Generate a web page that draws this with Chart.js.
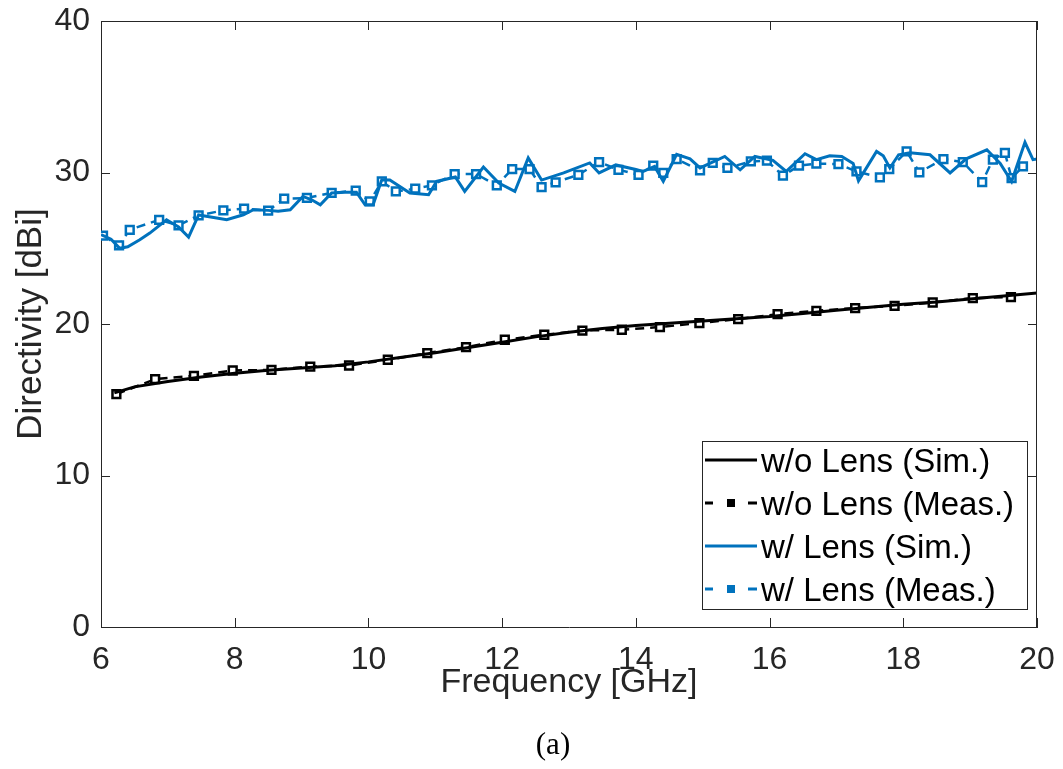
<!DOCTYPE html>
<html><head><meta charset="utf-8">
<script src="https://cdn.jsdelivr.net/npm/chart.js@4.4.0/dist/chart.umd.min.js"></script>
<style>
body{margin:0;background:#fff}
#wrap{position:relative;width:1063px;height:769px;overflow:hidden}
#cap{position:absolute;left:0;width:1106px;top:726px;text-align:center;font:31px "Liberation Serif","DejaVu Serif",serif;color:#000}
</style>
</head><body>
<div id="wrap"><canvas id="c" width="1063" height="769"></canvas><div id="cap">(a)</div></div>
<script>
// ---- data ----
const noLensSimFreq = [6.2,6.5,7.0,7.5,8.0,8.5,9.0,9.5,10.0,10.5,11.0,11.5,12.0,12.5,13.0,13.5,14.0,14.5,15.0,15.5,16.0,16.5,17.0,17.5,18.0,18.5,19.0,19.5,20.0];
const noLensSim = [15.45,15.85,16.2,16.5,16.75,16.95,17.1,17.25,17.5,17.8,18.1,18.45,18.8,19.15,19.45,19.7,19.9,20.05,20.2,20.35,20.5,20.7,20.9,21.1,21.3,21.45,21.65,21.85,22.05];

const noLensMeasFreq = [6.23,6.81,7.39,7.97,8.55,9.13,9.71,10.29,10.88,11.46,12.04,12.63,13.20,13.79,14.36,14.95,15.53,16.12,16.70,17.28,17.87,18.44,19.04,19.61];
const noLensMeas = [15.37,16.36,16.58,16.93,16.97,17.19,17.26,17.64,18.08,18.47,18.96,19.29,19.57,19.62,19.80,20.06,20.32,20.65,20.87,21.05,21.20,21.42,21.71,21.78];

const lensSimFreq = [6.00,6.15,6.28,6.40,6.58,6.73,6.98,7.16,7.31,7.46,7.73,7.88,8.13,8.28,8.50,8.65,8.83,9.02,9.15,9.28,9.45,9.65,9.82,9.95,10.07,10.20,10.32,10.62,10.90,11.02,11.30,11.44,11.72,11.95,12.19,12.39,12.59,12.92,13.31,13.45,13.70,14.00,14.11,14.28,14.41,14.61,14.81,14.96,15.33,15.56,15.78,16.05,16.25,16.53,16.70,16.90,17.08,17.25,17.33,17.60,17.70,17.80,17.93,18.10,18.40,18.70,18.94,19.25,19.45,19.62,19.82,19.94,20.00];
const lensSim = [25.9,25.6,25.0,25.1,25.56,26.0,26.88,26.4,25.74,27.2,27.0,26.88,27.21,27.54,27.5,27.45,27.54,28.42,28.2,27.87,28.65,28.7,28.7,27.87,27.87,29.52,29.5,28.65,28.53,29.41,29.7,28.75,30.36,29.3,28.75,30.96,29.5,29.97,30.63,29.97,30.5,30.2,30.07,30.4,29.41,31.2,30.9,30.3,31.06,30.18,31.06,30.8,30.07,31.24,30.85,31.1,31.06,30.6,29.45,31.39,31.1,30.3,31.17,31.3,31.17,29.97,30.9,31.5,30.6,29.41,31.99,30.85,30.9];

const lensMeasFreq = [6.03,6.27,6.43,6.87,7.16,7.46,7.83,8.14,8.50,8.74,9.08,9.45,9.81,10.02,10.20,10.41,10.70,10.95,11.29,11.61,11.92,12.15,12.41,12.59,12.80,13.14,13.45,13.74,14.04,14.26,14.41,14.61,14.96,15.15,15.37,15.72,15.96,16.20,16.44,16.70,17.03,17.30,17.65,17.79,18.05,18.24,18.60,18.89,19.18,19.34,19.52,19.62,19.79];
const lensMeas = [25.83,25.19,26.22,26.88,26.51,27.17,27.50,27.61,27.48,28.27,28.32,28.65,28.80,28.09,29.41,28.75,28.93,29.15,29.90,29.90,29.15,30.23,30.23,29.04,29.35,29.85,30.69,30.18,29.85,30.45,29.97,30.89,30.14,30.63,30.30,30.73,30.78,29.79,30.45,30.58,30.56,30.07,29.68,30.23,31.39,30.01,30.89,30.69,29.37,30.85,31.29,29.63,30.40];

const xTicks = [6,8,10,12,14,16,18,20];
const yTicks = [0,10,20,30,40];
const seriesLabels = ['w/o Lens (Sim.)','w/o Lens (Meas.)','w/ Lens (Sim.)','w/ Lens (Meas.)'];

const BLUE = '#0072BD', BLACK = '#000000', AXIS = '#262626';
const pts = (xs, ys) => xs.map((x, i) => ({x, y: ys[i]}));

Chart.defaults.font.family = '"Liberation Sans", Arial, Helvetica, sans-serif';

const framePlugin = {
  id: 'frame',
  afterDatasetsDraw(chart) {
    const {ctx, chartArea: a, scales} = chart;
    ctx.save();
    ctx.strokeStyle = AXIS; ctx.lineWidth = 1;
    ctx.beginPath();
    ctx.moveTo(a.left, a.top + 0.5); ctx.lineTo(a.right, a.top + 0.5);
    ctx.moveTo(a.right - 0.5, a.top); ctx.lineTo(a.right - 0.5, a.bottom);
    const L = 9;
    xTicks.forEach(v => {
      const p = Math.round(scales.x.getPixelForValue(v)) + 0.5;
      ctx.moveTo(p, a.bottom); ctx.lineTo(p, a.bottom - L);
      ctx.moveTo(p, a.top); ctx.lineTo(p, a.top + L);
    });
    yTicks.forEach(v => {
      const p = Math.round(scales.y.getPixelForValue(v)) + 0.5;
      ctx.moveTo(a.left, p); ctx.lineTo(a.left + L, p);
      ctx.moveTo(a.right, p); ctx.lineTo(a.right - L, p);
    });
    ctx.stroke();

    // legend
    const bx = 702.5, by = 441.5, bw = 325, bh = 168;
    ctx.fillStyle = '#fff';
    ctx.fillRect(bx, by, bw, bh);
    ctx.strokeStyle = AXIS; ctx.lineWidth = 1;
    ctx.strokeRect(bx, by, bw, bh);
    const rows = [460, 503, 546, 589];
    const colors = [BLACK, BLACK, BLUE, BLUE];
    rows.forEach((ry, i) => {
      ctx.strokeStyle = colors[i];
      ctx.lineWidth = 3;
      ctx.setLineDash([]);
      ctx.beginPath();
      if (i % 2 === 0) {
        ctx.moveTo(705, ry); ctx.lineTo(757, ry);
        ctx.stroke();
      } else {
        ctx.moveTo(705, ry); ctx.lineTo(713, ry);
        ctx.moveTo(748, ry); ctx.lineTo(757, ry);
        ctx.stroke();
        ctx.fillStyle = colors[i];
        ctx.fillRect(727, ry - 4, 8, 8);
      }
      ctx.fillStyle = '#000';
      ctx.font = '33px "Liberation Sans", Arial, sans-serif';
      ctx.textBaseline = 'middle';
      ctx.textAlign = 'left';
      ctx.fillText(seriesLabels[i], 761, ry + 3);
    });
    ctx.restore();
  }
};

new Chart(document.getElementById('c'), {
  type: 'line',
  data: {
    datasets: [
      {label: seriesLabels[0], data: pts(noLensSimFreq, noLensSim), borderColor: BLACK, borderWidth: 3, pointRadius: 0, tension: 0},
      {label: seriesLabels[1], data: pts(noLensMeasFreq, noLensMeas), borderColor: BLACK, borderWidth: 2.5, borderDash: [9, 6],
        pointStyle: 'rect', pointRadius: 5.5, pointBorderWidth: 2.5, pointBorderColor: BLACK, pointBackgroundColor: '#fff', tension: 0},
      {label: seriesLabels[2], data: pts(lensSimFreq, lensSim), borderColor: BLUE, borderWidth: 3, pointRadius: 0, tension: 0},
      {label: seriesLabels[3], data: pts(lensMeasFreq, lensMeas), borderColor: BLUE, borderWidth: 2.5, borderDash: [9, 6],
        pointStyle: 'rect', pointRadius: 5.5, pointBorderWidth: 2.5, pointBorderColor: BLUE, pointBackgroundColor: '#fff', tension: 0}
    ]
  },
  options: {
    responsive: false,
    animation: false,
    devicePixelRatio: 1,
    layout: {padding: {top: 21, right: 26, left: 0, bottom: 0}},
    plugins: {legend: {display: false}, tooltip: {enabled: false}},
    scales: {
      x: {
        type: 'linear', min: 6, max: 20,
        afterBuildTicks: s => { s.ticks = xTicks.map(v => ({value: v})); },
        afterFit: s => { s.height = 142; s.paddingLeft = 0; s.paddingRight = 0; },
        grid: {drawOnChartArea: false, drawTicks: false},
        border: {color: AXIS, width: 1},
        ticks: {color: AXIS, font: {size: 32}, padding: 14, maxRotation: 0},
        title: {display: true, text: 'Frequency [GHz]', color: AXIS, font: {size: 34}, padding: {top: 0, bottom: 66}}
      },
      y: {
        type: 'linear', min: 0, max: 40,
        afterBuildTicks: s => { s.ticks = yTicks.map(v => ({value: v})); },
        afterFit: s => { s.width = 101; s.paddingTop = 0; s.paddingBottom = 0; },
        grid: {drawOnChartArea: false, drawTicks: false},
        border: {color: AXIS, width: 1},
        ticks: {color: AXIS, font: {size: 32}, padding: 11},
        title: {display: true, text: 'Directivity [dBi]', color: AXIS, font: {size: 35}, padding: {top: 10, bottom: 0}}
      }
    }
  },
  plugins: [framePlugin]
});
</script>
</body></html>
